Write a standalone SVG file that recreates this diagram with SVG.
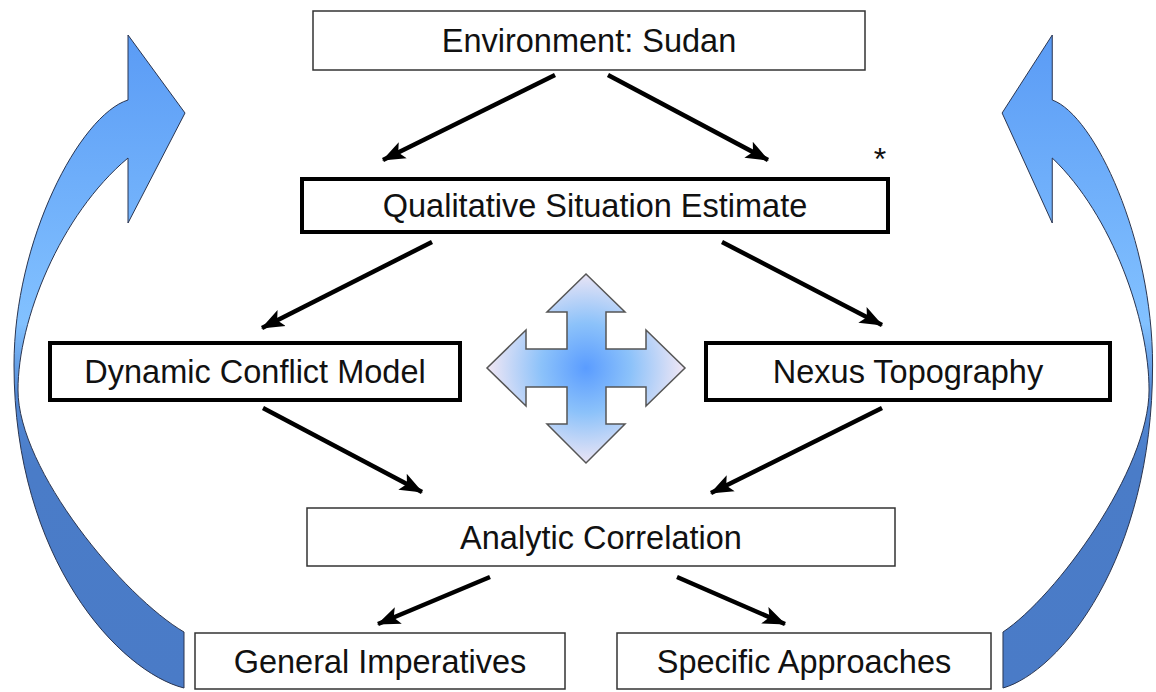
<svg xmlns="http://www.w3.org/2000/svg" width="1156" height="692" viewBox="0 0 1156 692">
<defs>
<style>
.box{fill:#fff;stroke:#333;stroke-width:1.5}
.thick{fill:#fff;stroke:#000;stroke-width:4}
.lbl{font-family:"Liberation Sans",Arial,sans-serif;font-size:32.5px;fill:#111;text-anchor:middle}
.conn{stroke:#000;stroke-width:4.5;fill:none;marker-end:url(#ah)}
.big{stroke:#2a3550;stroke-width:1;vector-effect:non-scaling-stroke}
</style>
<marker id="ah" markerUnits="userSpaceOnUse" markerWidth="24" markerHeight="20" viewBox="0 0 24 20" refX="22" refY="10" orient="auto">
<path d="M0,1 L23,10 L0,19 L5,10 Z" fill="#000"/>
</marker>
<linearGradient id="gL" gradientUnits="userSpaceOnUse" x1="0" y1="34" x2="0" y2="692">
<stop offset="0" stop-color="#5a9bf5"/>
<stop offset="0.44" stop-color="#82c1ff"/>
<stop offset="0.55" stop-color="#5389d5"/>
<stop offset="0.66" stop-color="#4a7cc8"/>
<stop offset="1" stop-color="#4a7bc7"/>
</linearGradient>
<radialGradient id="gC" gradientUnits="userSpaceOnUse" cx="586" cy="368" r="100">
<stop offset="0" stop-color="#5a9cff"/>
<stop offset="0.45" stop-color="#8cc2fa"/>
<stop offset="1" stop-color="#f4e8f4"/>
</radialGradient>
</defs>
<rect width="1156" height="692" fill="#fff"/>

<g id="loop-left">
<path class="big" fill="url(#gL)" d="M184,688 C120,672 14,560 14,365 C14,240 80,115 128,100 L128,35 L185,113 L128,223 L128,158 C60,215 18,320 18,390 C18,470 124,597 184,632 Z"/>
</g>
<g id="loop-right">
<path class="big" fill="url(#gL)" transform="matrix(-0.88,0,0,1,1164.9,0)" d="M184,688 C120,672 14,560 14,365 C14,240 80,115 128,100 L128,35 L185,113 L128,223 L128,158 C60,215 18,320 18,390 C18,470 124,597 184,632 Z"/>
</g>

<g id="cross">
<polygon points="586,274 625,312 606,312 606,349 646,349 646,330 685,368 646,406 646,387 606,387 606,424 625,424 586,463 547,424 567,424 567,387 526,387 526,406 487,368 526,330 526,349 567,349 567,312 547,312" fill="url(#gC)" stroke="#555" stroke-width="1.5" stroke-linejoin="miter"/>
</g>

<g id="connectors">
<line class="conn" x1="555" y1="75" x2="383" y2="160"/>
<line class="conn" x1="608" y1="75" x2="768" y2="160"/>
<line class="conn" x1="432" y1="242" x2="262" y2="328"/>
<line class="conn" x1="722" y1="242" x2="882" y2="325"/>
<line class="conn" x1="263" y1="408" x2="422" y2="492"/>
<line class="conn" x1="882" y1="408" x2="711" y2="493"/>
<line class="conn" x1="490" y1="577" x2="378" y2="624"/>
<line class="conn" x1="677" y1="577" x2="785" y2="624"/>
</g>

<g id="env">
<rect class="box" x="313" y="11" width="552" height="59"/>
<text class="lbl" x="589" y="52">Environment: Sudan</text>
</g>
<g id="qse">
<rect class="thick" x="302" y="179" width="586" height="53"/>
<text class="lbl" x="595" y="217">Qualitative Situation Estimate</text>
</g>
<text id="asterisk" x="880" y="170" style="font-family:'Liberation Sans',Arial,sans-serif;font-size:32px;fill:#111;text-anchor:middle">*</text>
<g id="dcm">
<rect class="thick" x="50" y="343" width="410" height="57"/>
<text class="lbl" x="255" y="383">Dynamic Conflict Model</text>
</g>
<g id="nexus">
<rect class="thick" x="706" y="343" width="404" height="57"/>
<text class="lbl" x="908" y="383">Nexus Topography</text>
</g>
<g id="analytic">
<rect class="box" x="307" y="508" width="588" height="58"/>
<text class="lbl" x="601" y="549">Analytic Correlation</text>
</g>
<g id="general">
<rect class="box" x="195" y="633" width="370" height="56"/>
<text class="lbl" x="380" y="672.5">General Imperatives</text>
</g>
<g id="specific">
<rect class="box" x="617" y="633" width="374" height="56"/>
<text class="lbl" x="804" y="672.5">Specific Approaches</text>
</g>
</svg>
